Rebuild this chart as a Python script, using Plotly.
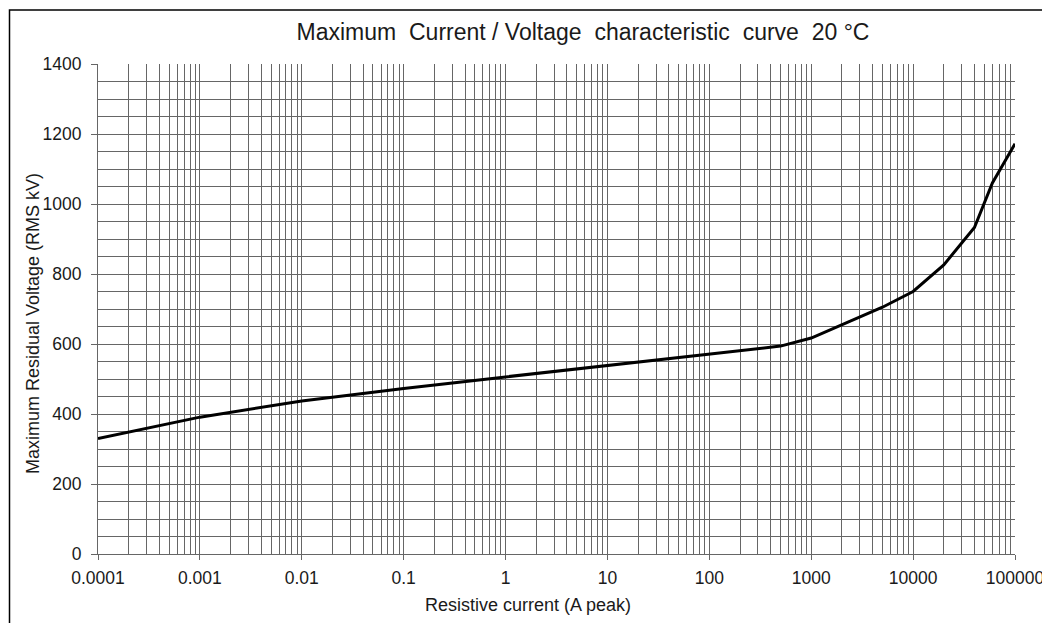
import plotly.graph_objects as go

# Resistive current (A peak) and maximum residual voltage (RMS kV)
current = [1e-4, 1e-3, 1e-2, 1e-1, 1, 10, 100, 500, 1000, 2000, 5000,
           10000, 20000, 40000, 60000, 100000]
voltage = [330, 391, 437, 473, 506, 538, 571, 594, 617, 655, 705,
           750, 826, 933, 1060, 1172]

decades = [1e-4, 1e-3, 1e-2, 1e-1, 1, 10, 100, 1000, 10000, 100000]
decade_labels = ["0.0001", "0.001", "0.01", "0.1", "1", "10", "100",
                 "1000", "10000", "100000"]
y_ticks = [0, 200, 400, 600, 800, 1000, 1200, 1400]

# intermediate log grid lines (2..9 within each decade)
minor_x = [d * k for d in decades[:-1] for k in range(2, 10)]

W, H = 1042, 623
L, R, T, B = 98, 27, 64, 69
pw, ph = W - L - R, H - T - B


def px_x(p):
    return (p - L) / pw


def px_y(p):
    return (H - B - p) / ph


fig = go.Figure()
fig.add_trace(go.Scatter(
    x=current, y=voltage, mode="lines",
    line=dict(color="black", width=3),
    showlegend=False, hoverinfo="x+y",
))

grid_col = "#666666"
font = "Liberation Sans, Arial, sans-serif"
txt_col = "#1a1a1a"
nb = "\u00a0"

fig.update_layout(
    width=W, height=H,
    margin=dict(l=L, r=R, t=T, b=B),
    paper_bgcolor="white", plot_bgcolor="white",
    font=dict(family=font, size=17.5, color=txt_col),
    title=dict(
        text=f"Maximum{nb} Current / Voltage{nb} characteristic{nb} curve{nb} 20 °C",
        x=px_x(583), xref="paper", xanchor="center",
        y=1 - 32 / H, yanchor="middle",
        font=dict(family=font, size=23, color=txt_col),
    ),
    xaxis=dict(
        type="log", range=[-4, 5.00001], automargin=False,
        tickvals=decades, ticktext=decade_labels,
        showgrid=True, gridcolor=grid_col, gridwidth=1,
        showline=True, linecolor=grid_col, linewidth=1,
        ticks="outside", ticklen=5, tickcolor=grid_col,
        ticklabelstandoff=3, ticklabeloverflow="allow",
        minor=dict(tickvals=minor_x, showgrid=True, gridcolor=grid_col,
                   gridwidth=1, ticks=""),
        zeroline=False,
    ),
    yaxis=dict(
        range=[0, 1400], tickvals=y_ticks, automargin=False,
        showgrid=True, gridcolor=grid_col, gridwidth=1,
        showline=True, linecolor=grid_col, linewidth=1,
        ticks="outside", ticklen=6, tickcolor=grid_col,
        ticklabelstandoff=6,
        minor=dict(dtick=50, showgrid=True, gridcolor=grid_col,
                   gridwidth=1, ticks=""),
        zeroline=False,
    ),
    annotations=[
        dict(text="Resistive current (A peak)", xref="paper", yref="paper",
             x=px_x(527.5), y=px_y(605), xanchor="center", yanchor="middle",
             showarrow=False, font=dict(size=18, color=txt_col)),
        dict(text="Maximum Residual Voltage (RMS kV)", xref="paper",
             yref="paper", x=px_x(33), y=px_y(324), xanchor="center",
             yanchor="middle", textangle=-90, showarrow=False,
             font=dict(size=18, color=txt_col)),
    ],
    shapes=[dict(
        type="rect", xref="paper", yref="paper",
        x0=px_x(9.5), x1=1.2,
        y0=-0.3, y1=px_y(10),
        line=dict(color="black", width=1.5), layer="below",
    )],
)

fig.write_html("out.html")
